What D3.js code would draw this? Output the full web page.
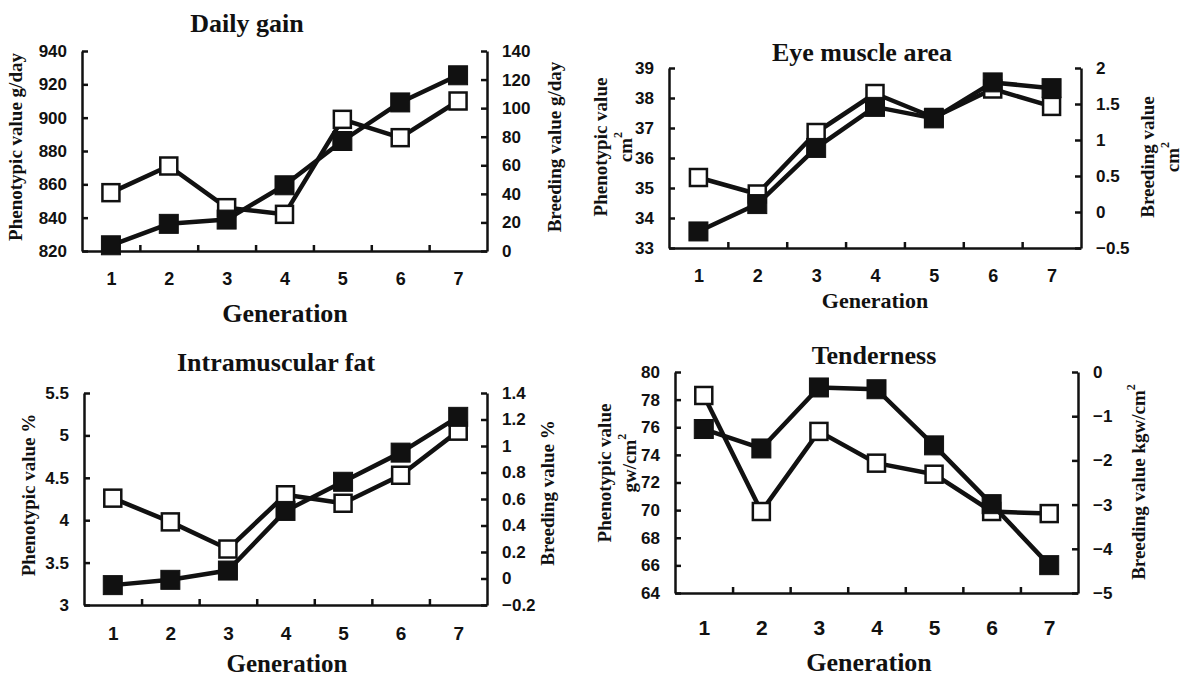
<!DOCTYPE html>
<html>
<head>
<meta charset="utf-8">
<script src="https://cdn.jsdelivr.net/npm/d3@7"></script>
<style>
  body { margin: 0; background: #fff; }
  .tick text { font-family: "Liberation Sans", Arial, sans-serif; font-weight: bold; fill: #111; }
  .lab { font-family: "Liberation Serif", "Times New Roman", serif; font-weight: bold; fill: #111; }
</style>
</head>
<body>
<div id="chart"></div>
<script>
// generations on the x axis
var generations = [1, 2, 3, 4, 5, 6, 7];

// Daily gain (g/day)
var dailyGainPhenotypic = [855, 871, 846, 842, 899, 888, 910];
var dailyGainBreeding = [4, 19, 22, 46, 77, 104, 123];
var dailyGainLeftTicks = [820, 840, 860, 880, 900, 920, 940];
var dailyGainRightTicks = [0, 20, 40, 60, 80, 100, 120, 140];

// Eye muscle area (cm2)
var eyePhenotypic = [35.35, 34.8, 36.85, 38.15, 37.35, 38.3, 37.72];
var eyeBreeding = [-0.27, 0.11, 0.89, 1.46, 1.3, 1.8, 1.72];
var eyeLeftTicks = [33, 34, 35, 36, 37, 38, 39];
var eyeRightTicks = [-0.5, 0, 0.5, 1, 1.5, 2];

// Intramuscular fat (%)
var fatPhenotypic = [4.26, 3.98, 3.66, 4.3, 4.2, 4.53, 5.05];
var fatBreeding = [-0.05, -0.01, 0.06, 0.51, 0.73, 0.95, 1.22];
var fatLeftTicks = [3, 3.5, 4, 4.5, 5, 5.5];
var fatRightTicks = [-0.2, 0, 0.2, 0.4, 0.6, 0.8, 1, 1.2, 1.4];

// Tenderness
var tenderPhenotypic = [78.3, 69.9, 75.7, 73.4, 72.6, 69.9, 69.75];
var tenderBreeding = [-1.29, -1.73, -0.35, -0.39, -1.66, -2.99, -4.37];
var tenderLeftTicks = [64, 66, 68, 70, 72, 74, 76, 78, 80];
var tenderRightTicks = [-5, -4, -3, -2, -1, 0];

var w = 1183, h = 677;

var panels = [
  { title: "Daily gain", phen: dailyGainPhenotypic, breed: dailyGainBreeding,
    lt: dailyGainLeftTicks, rt: dailyGainRightTicks,
    left: 82, right: 487, top: 51, bottom: 251,
    titlePos: [247, 23], genPos: [285, 313], genSize: 26, xLabY: 279, xLabSize: 18,
    yLabel: [["Phenotypic value g/day", null, 15, 147]],
    rLabel: [["Breeding value g/day", null, 554, 147]] },
  { title: "Eye muscle area", phen: eyePhenotypic, breed: eyeBreeding,
    lt: eyeLeftTicks, rt: eyeRightTicks,
    left: 669, right: 1081, top: 68, bottom: 248,
    titlePos: [862, 52], genPos: [875, 300], genSize: 22, xLabY: 276, xLabSize: 18,
    yLabel: [["Phenotypic value", null, 600, 147], ["cm", "2", 625, 147]],
    rLabel: [["Breeding value", null, 1147, 157], ["cm", "2", 1172, 157]] },
  { title: "Intramuscular fat", phen: fatPhenotypic, breed: fatBreeding,
    lt: fatLeftTicks, rt: fatRightTicks,
    left: 84, right: 487, top: 393, bottom: 605,
    titlePos: [276, 362], genPos: [287, 663], genSize: 25, xLabY: 633, xLabSize: 19,
    yLabel: [["Phenotypic value %", null, 28, 495]],
    rLabel: [["Breeding value %", null, 547, 493]] },
  { title: "Tenderness", phen: tenderPhenotypic, breed: tenderBreeding,
    lt: tenderLeftTicks, rt: tenderRightTicks,
    left: 675, right: 1078, top: 372, bottom: 593,
    titlePos: [874, 355], genPos: [869, 662], genSize: 26, xLabY: 627, xLabSize: 21,
    yLabel: [["Phenotypic value", null, 604, 473], ["gw/cm", "2", 629, 463]],
    rLabel: [["Breeding value kgw/cm", "2", 1138, 482]] }
];

var fmt = function(d) { return d < 0 ? "\u2212" + Math.abs(d) : String(d); };

var svg = d3.select("#chart").append("svg")
  .attr("width", w).attr("height", h)
  .style("background", "#fff");

panels.forEach(function(p) {
  var g = svg.append("g");

  var xScale = d3.scaleLinear().domain([0.5, 7.5]).range([p.left, p.right]);
  var yLeft = d3.scaleLinear().domain(d3.extent(p.lt)).range([p.bottom, p.top]);
  var yRight = d3.scaleLinear().domain(d3.extent(p.rt)).range([p.bottom, p.top]);

  // left axis, ticks pointing inward
  var la = g.append("g").attr("transform", "translate(" + p.left + ",0)")
    .call(d3.axisLeft(yLeft).tickValues(p.lt).tickFormat(fmt)
      .tickSize(-6).tickSizeOuter(0).tickPadding(15));
  la.selectAll("text").style("font-size", "17px");

  // right axis
  var ra = g.append("g").attr("transform", "translate(" + p.right + ",0)")
    .call(d3.axisRight(yRight).tickValues(p.rt).tickFormat(fmt)
      .tickSize(-6).tickSizeOuter(0).tickPadding(15));
  ra.selectAll("text").style("font-size", "17px");

  // bottom axis: boundary ticks
  g.append("g").attr("transform", "translate(0," + p.bottom + ")")
    .call(d3.axisBottom(xScale).tickValues(generations.slice(0, 6).map(function(d) { return d + 0.5; }))
      .tickFormat("").tickSize(-6).tickSizeOuter(0));

  // bottom axis labels
  var pad = p.xLabY - p.bottom - 0.35 * p.xLabSize;
  var xa = g.append("g").attr("transform", "translate(0," + p.bottom + ")")
    .call(d3.axisBottom(xScale).tickValues(generations).tickFormat(d3.format("d"))
      .tickSize(0).tickPadding(pad));
  xa.select(".domain").remove();
  xa.selectAll("text").style("font-size", p.xLabSize + "px");

  g.selectAll(".domain, .tick line").attr("stroke", "#111").attr("stroke-width", 2.5);

  // lines
  var linePhen = d3.line().x(function(d, i) { return xScale(generations[i]); }).y(function(d) { return yLeft(d); });
  var lineBreed = d3.line().x(function(d, i) { return xScale(generations[i]); }).y(function(d) { return yRight(d); });

  g.append("path").datum(p.phen).attr("d", linePhen)
    .attr("fill", "none").attr("stroke", "#111").attr("stroke-width", 4.5).attr("stroke-linejoin", "round");
  g.selectAll(".ph").data(p.phen).join("rect").attr("class", "ph")
    .attr("x", function(d, i) { return xScale(generations[i]) - 8.5; })
    .attr("y", function(d) { return yLeft(d) - 8.5; })
    .attr("width", 17).attr("height", 17)
    .attr("fill", "#fff").attr("stroke", "#111").attr("stroke-width", 2.5);

  g.append("path").datum(p.breed).attr("d", lineBreed)
    .attr("fill", "none").attr("stroke", "#111").attr("stroke-width", 4.5).attr("stroke-linejoin", "round");
  g.selectAll(".br").data(p.breed).join("rect").attr("class", "br")
    .attr("x", function(d, i) { return xScale(generations[i]) - 9.5; })
    .attr("y", function(d) { return yRight(d) - 9.5; })
    .attr("width", 19).attr("height", 19)
    .attr("fill", "#111").attr("stroke", "#111").attr("stroke-width", 1);

  // title
  g.append("text").attr("class", "lab")
    .attr("x", p.titlePos[0]).attr("y", p.titlePos[1])
    .attr("text-anchor", "middle").attr("dominant-baseline", "central")
    .style("font-size", "26px").text(p.title);

  // generation label
  g.append("text").attr("class", "lab")
    .attr("x", p.genPos[0]).attr("y", p.genPos[1])
    .attr("text-anchor", "middle").attr("dominant-baseline", "central")
    .style("font-size", p.genSize + "px").text("Generation");

  // rotated axis titles
  p.yLabel.concat(p.rLabel).forEach(function(l) {
    var t = g.append("text").attr("class", "lab")
      .attr("transform", "translate(" + l[2] + "," + l[3] + ") rotate(-90)")
      .attr("text-anchor", "middle").attr("dominant-baseline", "central")
      .style("font-size", "19px");
    t.append("tspan").text(l[0]);
    if (l[1]) {
      t.append("tspan").attr("dy", "-0.55em").style("font-size", "12px").text(l[1]);
    }
  });
});
</script>
</body>
</html>
